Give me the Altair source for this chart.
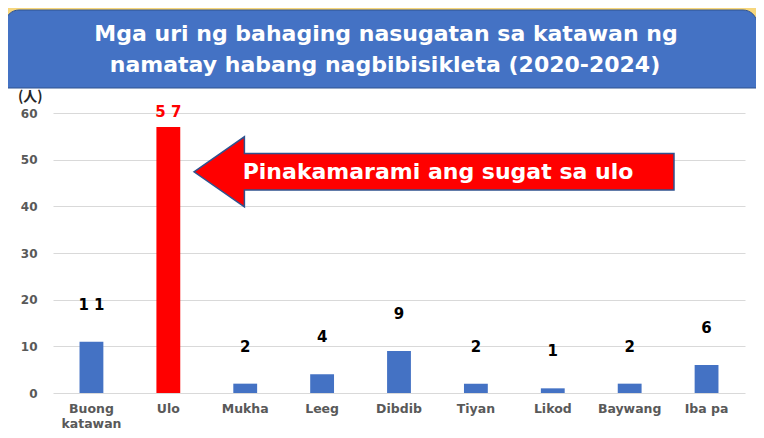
import altair as alt
import pandas as pd

# ---- data ----
categories = ["Buong katawan", "Ulo", "Mukha", "Leeg", "Dibdib", "Tiyan", "Likod", "Baywang", "Iba pa"]
values = [11, 57, 2, 4, 9, 2, 1, 2, 6]
value_labels = ["1 1", "5 7", "2", "4", "9", "2", "1", "2", "6"]
y_ticks = [0, 10, 20, 30, 40, 50, 60]
title_line1 = "Mga uri ng bahaging nasugatan sa katawan ng"
title_line2 = "namatay habang nagbibisikleta (2020-2024)"
callout_text = "Pinakamarami ang sugat sa ulo"
callout_level = 47.4
unit_label = "(人)"

top = max(values)
df = pd.DataFrame({
    "part": categories,
    "count": values,
    "label": value_labels,
    "highlight": [v == top for v in values],
})

W, H = 692, 280
BLUE = "#4472C4"
RED = "#FF0000"
GRID = "#D9D9D9"
AXIS_TXT = "#595959"
YELLOW = "#F6D67C"
FONT = "DejaVu Sans"

xscale = alt.Scale(domain=categories, paddingInner=0.69, paddingOuter=0.345)
yscale = alt.Scale(domain=[0, 60], nice=False)

x_enc = alt.X("part:N", sort=categories, scale=xscale, title=None,
              axis=alt.Axis(labelAngle=0, domain=False, ticks=False, labelPadding=9,
                            labelFont=FONT, labelFontSize=12.5, labelFontWeight="bold",
                            labelColor=AXIS_TXT, labelLineHeight=15,
                            labelExpr="datum.value == 'Buong katawan' ? ['Buong', 'katawan'] : datum.value"))
y_enc = alt.Y("count:Q", scale=yscale, title=None,
              axis=alt.Axis(values=y_ticks, domain=False, ticks=False, labelPadding=16,
                            labelFont=FONT, labelFontSize=12, labelFontWeight="bold",
                            labelColor=AXIS_TXT, grid=True, gridColor=GRID, gridWidth=1.2))

one = alt.Data(values=[{}])

# header background (yellow) and blue title box
yellow_band = alt.Chart(one).mark_rect(color=YELLOW).encode(
    x=alt.value(-45), x2=alt.value(711), y=alt.value(-105), y2=alt.value(-25))
blue_box = alt.Chart(one).mark_rect(
    color=BLUE, stroke="#2F528F", strokeWidth=1,
    cornerRadiusTopLeft=14, cornerRadiusTopRight=14).encode(
    x=alt.value(-48), x2=alt.value(704), y=alt.value(-103), y2=alt.value(-25))
title_1 = alt.Chart(one).mark_text(
    text=title_line1, font=FONT, fontSize=22, fontWeight="bold", color="white",
    baseline="alphabetic", align="center").encode(
    x=alt.value(333), y=alt.value(-72))
title_2 = alt.Chart(one).mark_text(
    text=title_line2, font=FONT, fontSize=22, fontWeight="bold", color="white",
    baseline="alphabetic", align="center").encode(
    x=alt.value(332), y=alt.value(-41))

unit = alt.Chart(one).mark_text(
    text=unit_label, font="Noto Sans CJK JP", fontSize=14, fontWeight="bold",
    color="#262626", align="left", baseline="middle").encode(
    x=alt.value(-35), y=alt.value(-16))

bars = alt.Chart(df).mark_bar().encode(
    x=x_enc, y=y_enc,
    color=alt.condition("datum.highlight", alt.value(RED), alt.value(BLUE)))

labels_normal = alt.Chart(df).transform_filter("!datum.highlight").mark_text(
    font=FONT, fontSize=15, fontWeight="bold", color="black", dy=-37, baseline="middle").encode(
    x=alt.X("part:N", sort=categories, scale=xscale),
    y=alt.Y("count:Q", scale=yscale), text="label:N")
labels_top = alt.Chart(df).transform_filter("datum.highlight").mark_text(
    font=FONT, fontSize=15, fontWeight="bold", color=RED, dy=-15, baseline="middle").encode(
    x=alt.X("part:N", sort=categories, scale=xscale),
    y=alt.Y("count:Q", scale=yscale), text="label:N")

arrow_path = ("M -1 0 L -0.79 -0.146 L -0.79 -0.076 L 1 -0.076 "
              "L 1 0.076 L -0.79 0.076 L -0.79 0.146 Z")
arrow = alt.Chart(one).mark_point(
    shape=arrow_path, size=480 * 480, filled=True, fill=RED, opacity=1,
    stroke="#2F528F", strokeWidth=1.5).encode(
    x=alt.value(381), y=alt.datum(callout_level))
arrow_text = alt.Chart(one).mark_text(
    text=callout_text, font=FONT, fontSize=22, fontWeight="bold", color="white",
    align="center", baseline="middle").encode(
    x=alt.value(385), y=alt.datum(callout_level))

chart = alt.layer(
    yellow_band, blue_box, title_1, title_2, unit, bars, labels_normal, labels_top, arrow, arrow_text
).properties(
    width=W, height=H,
    autosize=alt.AutoSizeParams(type="none"),
    padding={"left": 45, "top": 105, "right": 11, "bottom": 37},
    background="white",
).configure_view(stroke=None)

chart.save("out.html", embed_options={"renderer": "svg", "actions": False})
